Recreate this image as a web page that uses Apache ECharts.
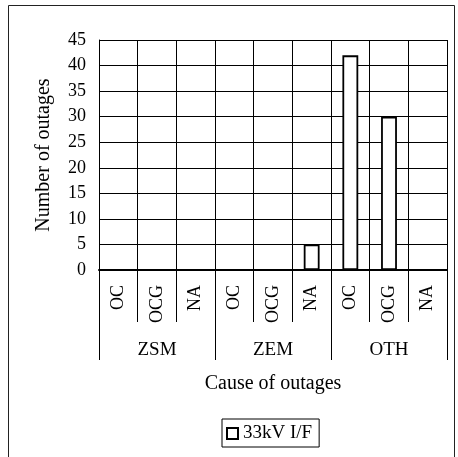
<!DOCTYPE html>
<html>
<head>
<meta charset="utf-8">
<script src="https://cdn.jsdelivr.net/npm/echarts@6/dist/echarts.min.js"></script>
<style>
html, body { margin: 0; padding: 0; background: #fff; }
#chart { width: 458px; height: 457px; }
</style>
</head>
<body>
<div id="chart"></div>
<script>
// data
const causes = ['OC', 'OCG', 'NA', 'OC', 'OCG', 'NA', 'OC', 'OCG', 'NA'];
const groups = ['ZSM', 'ZEM', 'OTH'];
const outages = [0, 0, 0, 0, 0, 5, 42, 30, 0];
const seriesName = '33kV I/F';

const font = "'Liberation Serif', 'Times New Roman', serif";

let chart = echarts.init(document.getElementById('chart'));
let option = {
    backgroundColor: '#fff',
    textStyle: { fontFamily: font, color: '#000' },
    graphic: [{
        type: 'rect',
        shape: { x: 8.5, y: 5.5, width: 446, height: 460 },
        style: { fill: 'none', stroke: '#222', lineWidth: 1 }
    }],
    grid: { left: 99, right: 11, top: 40, bottom: 187 },
    legend: {
        left: 222,
        top: 419,
        data: [{ name: seriesName, icon: 'rect' }],
        borderColor: '#000',
        borderWidth: 1,
        padding: [5, 7, 4, 4],
        itemWidth: 11,
        itemHeight: 11,
        itemGap: 4,
        textStyle: { fontFamily: font, fontSize: 19, color: '#000' }
    },
    xAxis: [{
        type: 'category',
        data: causes,
        position: 'bottom',
        axisLine: { show: true, lineStyle: { color: '#000', width: 2 } },
        axisTick: { show: true, length: 52, interval: 0, lineStyle: { color: '#000' } },
        axisLabel: { interval: 0, rotate: 90, margin: 15, fontFamily: font, fontSize: 18, color: '#000' },
        splitLine: { show: true, interval: 0, lineStyle: { color: '#000', width: 1 } }
    }, {
        type: 'category',
        data: groups,
        position: 'bottom',
        axisLine: { show: false },
        axisTick: { show: true, length: 90, interval: 0, lineStyle: { color: '#000' } },
        axisLabel: { interval: 0, margin: 71, fontFamily: font, fontSize: 19, color: '#000' },
        name: 'Cause of outages',
        nameLocation: 'middle',
        nameGap: 104,
        nameTextStyle: { fontFamily: font, fontSize: 20, color: '#000' }
    }],
    yAxis: {
        type: 'value',
        min: 0,
        max: 45,
        interval: 5,
        name: 'Number of outages',
        nameLocation: 'middle',
        nameGap: 45,
        nameTextStyle: { fontFamily: font, fontSize: 20, color: '#000' },
        axisLine: { show: true, lineStyle: { color: '#000', width: 1 } },
        axisTick: { show: false },
        axisLabel: { margin: 13, fontFamily: font, fontSize: 18, color: '#000' },
        splitLine: { show: true, lineStyle: { color: '#000', width: 1 } }
    },
    series: [{
        name: seriesName,
        type: 'bar',
        xAxisIndex: 0,
        data: outages,
        barWidth: '41%',
        itemStyle: { color: '#fff', borderColor: '#000', borderWidth: 1.8 }
    }]
};
chart.setOption(option);
</script>
</body>
</html>
